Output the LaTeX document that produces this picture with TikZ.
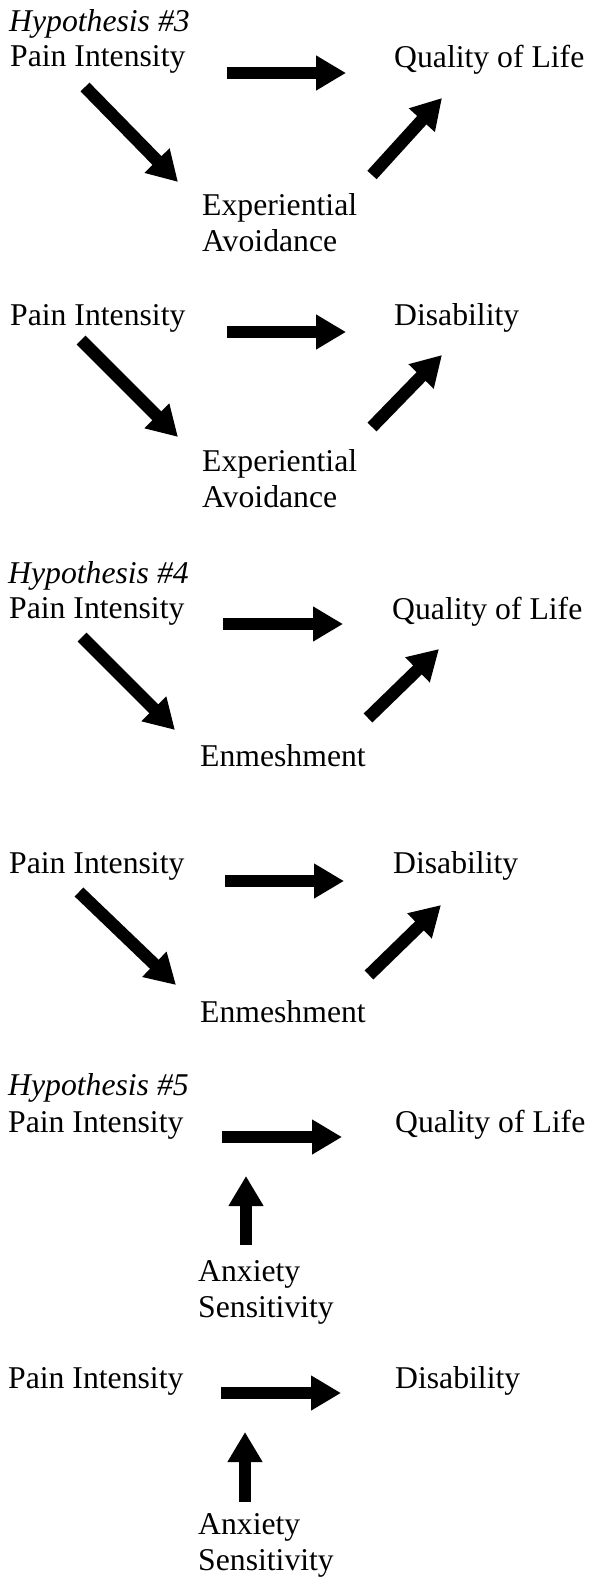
\documentclass[tikz,border=0pt]{standalone}
\usepackage{fontspec}
\setmainfont{Liberation Serif}
\usetikzlibrary{arrows.meta}

\tikzset{
  lbl/.style={anchor=base west, inner sep=0pt, align=left},
  fat/.style={line width=12.5pt, -{Triangle[length=30pt,width=33pt]}},
}

\begin{document}
\begin{tikzpicture}[x=1pt, y=-1pt, font=\fontsize{31.7}{36}\selectfont]
\useasboundingbox (0,0) rectangle (590,1578);

% Hypothesis 3, quality of life
\node[lbl] (hyp3) at (9,32) {\itshape Hypothesis \#3};
\node[lbl] (pi1) at (10,67) {Pain Intensity};
\node[lbl] (qol1) at (394,68) {Quality of Life};
\node[lbl] (ea1) at (202,252) {Experiential\\Avoidance};
\coordinate (h1a) at (227,73);
\coordinate (h1b) at (346,73);
\coordinate (d1a) at (85,87);
\coordinate (d1b) at (178,182);
\coordinate (u1a) at (372,175);
\coordinate (u1b) at (442,98);
\draw[fat] (h1a) -- (h1b);
\draw[fat] (d1a) -- (d1b);
\draw[fat] (u1a) -- (u1b);

% Hypothesis 3, disability
\node[lbl] (pi2) at (10,325) {Pain Intensity};
\node[lbl] (dis2) at (394,325) {Disability};
\node[lbl] (ea2) at (202,507) {Experiential\\Avoidance};
\coordinate (h2a) at (227,332);
\coordinate (h2b) at (346,332);
\coordinate (d2a) at (81,340);
\coordinate (d2b) at (178,437);
\coordinate (u2a) at (372,427);
\coordinate (u2b) at (442,355);
\draw[fat] (h2a) -- (h2b);
\draw[fat] (d2a) -- (d2b);
\draw[fat] (u2a) -- (u2b);

% Hypothesis 4, quality of life
\node[lbl] (hyp4) at (8,583) {\itshape Hypothesis \#4};
\node[lbl] (pi3) at (9,618) {Pain Intensity};
\node[lbl] (qol3) at (392,619) {Quality of Life};
\node[lbl] (en3) at (200,766) {Enmeshment};
\coordinate (h3a) at (223,624);
\coordinate (h3b) at (343,624);
\coordinate (d3a) at (82,637);
\coordinate (d3b) at (175,730);
\coordinate (u3a) at (368,718);
\coordinate (u3b) at (439,649);
\draw[fat] (h3a) -- (h3b);
\draw[fat] (d3a) -- (d3b);
\draw[fat] (u3a) -- (u3b);

% Hypothesis 4, disability
\node[lbl] (pi4) at (9,873) {Pain Intensity};
\node[lbl] (dis4) at (393,873) {Disability};
\node[lbl] (en4) at (200,1022) {Enmeshment};
\coordinate (h4a) at (225,881);
\coordinate (h4b) at (344,881);
\coordinate (d4a) at (79,892);
\coordinate (d4b) at (176,985);
\coordinate (u4a) at (369,975);
\coordinate (u4b) at (441,905);
\draw[fat] (h4a) -- (h4b);
\draw[fat] (d4a) -- (d4b);
\draw[fat] (u4a) -- (u4b);

% Hypothesis 5, quality of life
\node[lbl] (hyp5) at (8,1095) {\itshape Hypothesis \#5};
\node[lbl] (pi5) at (8,1132) {Pain Intensity};
\node[lbl] (qol5) at (395,1132) {Quality of Life};
\node[lbl] (as5) at (198,1317) {Anxiety\\Sensitivity};
\coordinate (h5a) at (222,1137);
\coordinate (h5b) at (342,1137);
\coordinate (v5a) at (246,1245);
\coordinate (v5b) at (246,1176);
\draw[fat] (h5a) -- (h5b);
\draw[fat] (v5a) -- (v5b);

% Hypothesis 5, disability
\node[lbl] (pi6) at (8,1388) {Pain Intensity};
\node[lbl] (dis6) at (395,1388) {Disability};
\node[lbl] (as6) at (198,1570) {Anxiety\\Sensitivity};
\coordinate (h6a) at (221,1393);
\coordinate (h6b) at (341,1393);
\coordinate (v6a) at (245,1502);
\coordinate (v6b) at (245,1432);
\draw[fat] (h6a) -- (h6b);
\draw[fat] (v6a) -- (v6b);
\end{tikzpicture}
\end{document}
